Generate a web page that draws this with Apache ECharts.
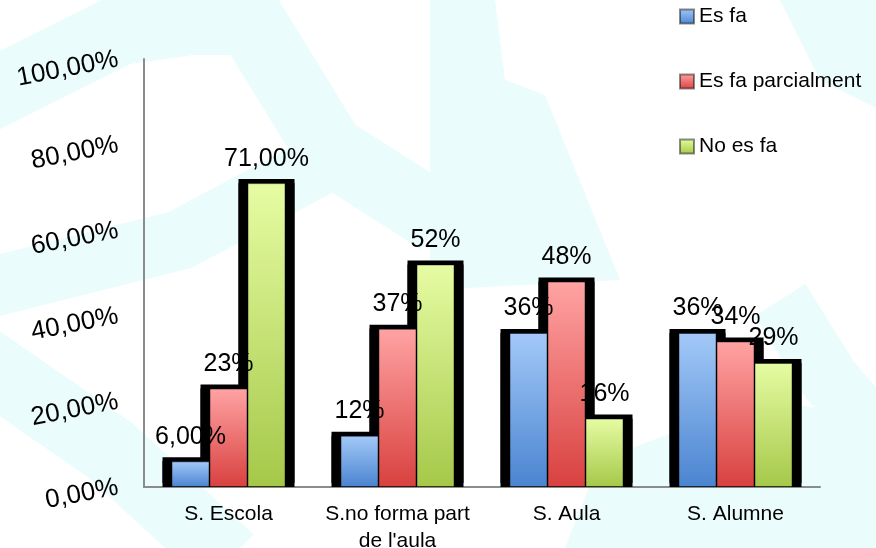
<!DOCTYPE html>
<html>
<head>
<meta charset="utf-8">
<script src="https://cdn.jsdelivr.net/npm/echarts@6/dist/echarts.min.js"></script>
<style>
  html, body { margin: 0; padding: 0; background: #fff; }
  #chart { width: 876px; height: 548px; }
</style>
</head>
<body>
<div id="chart"></div>
<script>
var categories = ['S. Escola', "S.no forma part\nde l'aula", 'S. Aula', 'S. Alumne'];
var seriesNames = ['Es fa', 'Es fa parcialment', 'No es fa'];

var esFa = [6, 12, 36, 36];
var esFaParcial = [23, 37, 48, 34];
var noEsFa = [71, 52, 16, 29];

// labels as they are printed over the bars
var esFaLabels = ['6,00%', '12%', '36%', '36%'];
var esFaParcialLabels = ['23%', '37%', '48%', '34%'];
var noEsFaLabels = ['71,00%', '52%', '16%', '29%'];

var yMin = 0, yMax = 100, yStep = 20;

var font = "'Liberation Sans', Arial, sans-serif";
var pale = '#ebfcfc';

function grad(top, bottom) {
    return {
        type: 'linear', x: 0, y: 0, x2: 0, y2: 1,
        colorStops: [{offset: 0, color: top}, {offset: 1, color: bottom}]
    };
}

// coloured bars, on the visible axis
function fillSeries(name, values, labels, top, bottom) {
    return {
        name: name,
        type: 'bar',
        xAxisIndex: 0,
        barWidth: 38,
        barGap: 0,
        z: 3,
        data: values,
        itemStyle: {color: grad(top, bottom), borderColor: 'rgba(0,0,0,0.45)', borderWidth: 1},
        label: {
            show: true,
            position: 'top',
            distance: 12,
            fontSize: 25,
            fontFamily: font,
            color: '#000',
            formatter: function (p) { return labels[p.dataIndex]; }
        }
    };
}

// black frame behind each bar (wider, and lifted a little with a hard shadow)
function frameSeries(values) {
    return {
        type: 'bar',
        xAxisIndex: 1,
        barWidth: 56,
        barGap: '-32.14%',
        z: 2,
        silent: true,
        data: values,
        itemStyle: {color: '#000', shadowColor: '#000', shadowBlur: 0, shadowOffsetY: -4}
    };
}

var myChart = echarts.init(document.getElementById('chart'));

var option = {
    animation: false,
    backgroundColor: '#fff',
    graphic: [
        // pale watermark in the background
        {type: 'polyline', z: -10, shape: {points: [[-20, 100], [120, 30], [190, 20], [250, 20], [330, 150], [440, 220]]},
            style: {stroke: pale, lineWidth: 70, fill: null, lineJoin: 'round'}},
        {type: 'polyline', z: -10, shape: {points: [[-20, 290], [180, 240], [330, 160]]},
            style: {stroke: pale, lineWidth: 60, fill: null, lineJoin: 'round'}},
        {type: 'polygon', z: -10, shape: {points: [[430, 0], [495, 0], [505, 80], [545, 95], [620, 280], [430, 290]]},
            style: {fill: pale}},
        {type: 'polyline', z: -10, shape: {points: [[-20, 360], [110, 450], [230, 560]]},
            style: {stroke: pale, lineWidth: 70, fill: null, lineJoin: 'round'}},
        {type: 'polygon', z: -10, shape: {points: [[600, 460], [760, 400], [900, 420], [900, 560], [560, 560]]},
            style: {fill: pale}},
        {type: 'polyline', z: -10, shape: {points: [[780, 300], [830, 380], [900, 460]]},
            style: {stroke: pale, lineWidth: 60, fill: null}},
        {type: 'polygon', z: -10, shape: {points: [[780, 0], [900, 0], [900, 120], [820, 80]]},
            style: {fill: pale}}
    ],
    legend: {
        orient: 'vertical',
        left: 674,
        top: 1,
        itemWidth: 14,
        itemHeight: 14,
        itemGap: 44,
        icon: 'rect',
        data: seriesNames,
        textStyle: {fontSize: 21, fontFamily: font, color: '#000', lineHeight: 20}
    },
    grid: {left: 144, right: 56, top: 59, bottom: 61, outerBoundsMode: 'none', containLabel: false},
    xAxis: [{
        type: 'category',
        data: categories,
        axisLine: {lineStyle: {color: '#8c8c8c', width: 2}},
        axisTick: {show: false},
        axisLabel: {interval: 0, fontSize: 21, fontFamily: font, color: '#000', lineHeight: 27, margin: 14}
    }, {
        type: 'category',
        data: categories,
        show: false
    }],
    yAxis: {
        type: 'value',
        min: yMin,
        max: yMax,
        interval: yStep,
        splitLine: {show: false},
        axisTick: {show: false},
        axisLine: {show: true, lineStyle: {color: '#8c8c8c', width: 2}},
        axisLabel: {
            fontSize: 26,
            fontFamily: font,
            color: '#000',
            rotate: 11,
            margin: 26,
            padding: [16, 0, 0, 0],
            formatter: function (v) { return v.toFixed(2).replace('.', ',') + '%'; }
        }
    },
    series: [
        frameSeries(esFa),
        frameSeries(esFaParcial),
        frameSeries(noEsFa),
        fillSeries(seriesNames[0], esFa, esFaLabels, '#a3c9f8', '#4a84d0'),
        fillSeries(seriesNames[1], esFaParcial, esFaParcialLabels, '#ffa3a3', '#d8413f'),
        fillSeries(seriesNames[2], noEsFa, noEsFaLabels, '#e6fca3', '#a5c849')
    ]
};

myChart.setOption(option);
</script>
</body>
</html>
